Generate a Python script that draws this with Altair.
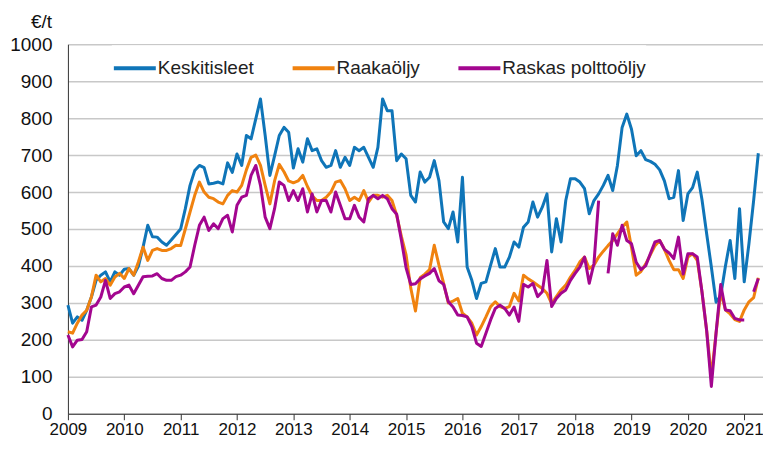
import altair as alt
import pandas as pd

series_names = ["Keskitisleet", "Raakaöljy", "Raskas polttoöljy"]
colors = ["#0F75B8", "#F0820F", "#A3068F"]
start_year = 2009
year_ticks = list(range(2009, 2022))
value_ticks = list(range(0, 1001, 100))

# monthly values, Jan 2009 - Apr 2021 (EUR/t)
keskitisleet = [
    294, 245, 262, 253, 280, 316, 361, 375, 384, 357, 384, 375,
    391, 393, 375, 399, 451, 510, 479, 478, 465, 456, 470, 485,
    500, 555, 618, 658, 672, 666, 622, 624, 627, 622, 679, 653,
    703, 672, 753, 744, 798, 852, 753, 645, 698, 753, 775, 762,
    665, 717, 681, 744, 712, 717, 685, 667, 672, 712, 667, 694,
    672, 721, 712, 721, 694, 667, 721, 852, 820, 820, 685, 703,
    690, 591, 573, 654, 627, 640, 685, 631, 519, 501, 546, 465,
    640, 397, 361, 312, 353, 357, 402, 447, 397, 397, 424, 465,
    451, 505, 519, 573, 532, 559, 595, 438, 528, 465, 577, 636,
    636, 627, 609, 541, 577, 595, 618, 645, 604, 672, 775, 811,
    770, 698, 712, 688, 683, 675, 660, 630, 582, 586, 658, 523,
    595, 612, 654, 580, 487, 397, 302, 320, 400, 469, 366, 555,
    357, 460, 577, 705,
]
raakaoljy = [
    222, 218, 245, 267, 280, 316, 375, 357, 366, 348, 370, 380,
    366, 393, 375, 411, 451, 415, 442, 447, 442, 442, 447, 456,
    455, 500, 546, 591, 627, 600, 586, 582, 573, 568, 591, 604,
    600, 618, 660, 694, 700, 672, 618, 568, 630, 675, 655, 630,
    625, 630, 645, 615, 590, 577, 577, 586, 600, 627, 631, 609,
    577, 586, 577, 604, 573, 591, 591, 586, 591, 577, 537, 480,
    430, 340, 278, 368, 378, 390, 456, 402, 353, 300, 305, 312,
    272, 262, 245, 213, 236, 262, 290, 303, 290, 285, 290, 326,
    305, 375, 365, 357, 348, 339, 326, 298, 317, 335, 348, 370,
    388, 411, 424, 393, 402, 424, 440, 455, 469, 487, 505, 519,
    450, 375, 385, 405, 430, 455, 469, 445, 415, 390, 390, 366,
    424, 433, 415, 330, 225, 100, 218, 330, 281, 270, 255, 250,
    281, 303, 314, 368,
]
raskas_polttooljy = [
    213, 181, 199, 201, 222, 289, 294, 316, 361, 312, 325, 330,
    343, 348, 325, 348, 371, 372, 373, 379, 366, 361, 361, 371,
    375, 384, 397, 456, 510, 532, 496, 514, 501, 528, 537, 492,
    564, 586, 591, 645, 672, 618, 532, 501, 555, 627, 618, 577,
    604, 577, 609, 546, 595, 546, 577, 577, 546, 600, 564, 528,
    528, 564, 532, 519, 582, 591, 582, 591, 582, 555, 540, 470,
    395, 350, 352, 365, 373, 380, 393, 360, 350, 303, 289, 267,
    266, 262, 236, 191, 182, 218, 254, 285, 294, 285, 267, 289,
    250, 350, 343, 353, 317, 330, 415, 290, 312, 326, 335, 361,
    380, 397, 424, 353, 406, 577, None, 380, 487, 456, 510, 469,
    460, 410, 390, 400, 433, 465, 469, 445, 435, 420, 478, 378,
    433, 433, 424, 330, 225, 74, 218, 350, 281, 279, 258, 254,
    254, None, 330, 366,
]

rows = []
for name, vals in zip(series_names, [keskitisleet, raakaoljy, raskas_polttooljy]):
    for i, v in enumerate(vals):
        rows.append({"t": start_year + i / 12, "v": v, "s": name})
df = pd.DataFrame(rows)

FONT = "Liberation Sans"

chart = alt.Chart(df).mark_line(
    strokeWidth=3, strokeJoin="round", invalid="break-paths-show-domains"
).encode(
    x=alt.X("t:Q",
            scale=alt.Scale(domain=[2009, 2021.333], nice=False, zero=False),
            axis=alt.Axis(values=year_ticks, format="d", title=None, grid=False,
                          labelFontSize=17, labelColor="#111", labelPadding=2,
                          tickSize=6, tickColor="#333", domainColor="#333",
                          labelFlush=False, labelOverlap=False)),
    y=alt.Y("v:Q",
            scale=alt.Scale(domain=[0, 1000], nice=False),
            axis=alt.Axis(values=value_ticks, format="d", title="€/t", titleAngle=0,
                          titleX=-27, titleY=-23, titleAlign="center",
                          titleBaseline="middle", titleFontSize=19,
                          titleFontWeight="normal", titleColor="#111",
                          labelFontSize=19, labelColor="#111", labelPadding=16,
                          ticks=False, domainColor="#333",
                          gridColor="#c8c8c8", gridWidth=1.5)),
    color=alt.Color("s:N",
                    scale=alt.Scale(domain=series_names, range=colors),
                    sort=series_names,
                    legend=alt.Legend(title=None, orient="none", legendX=44, legendY=1,
                                      direction="horizontal", columns=3,
                                      symbolType="stroke", symbolSize=1764,
                                      symbolStrokeWidth=4, labelFontSize=19,
                                      labelColor="#222", labelOffset=0,
                                      columnPadding=30, fillColor="white",
                                      padding=0)),
).properties(
    width=696, height=370,
    padding={"left": 60, "top": 36, "right": 0, "bottom": 27},
    autosize=alt.AutoSizeParams(type="none"),
).configure(font=FONT).configure_view(strokeWidth=0)

chart.save("out.html", embed_options={"renderer": "svg", "actions": False})
